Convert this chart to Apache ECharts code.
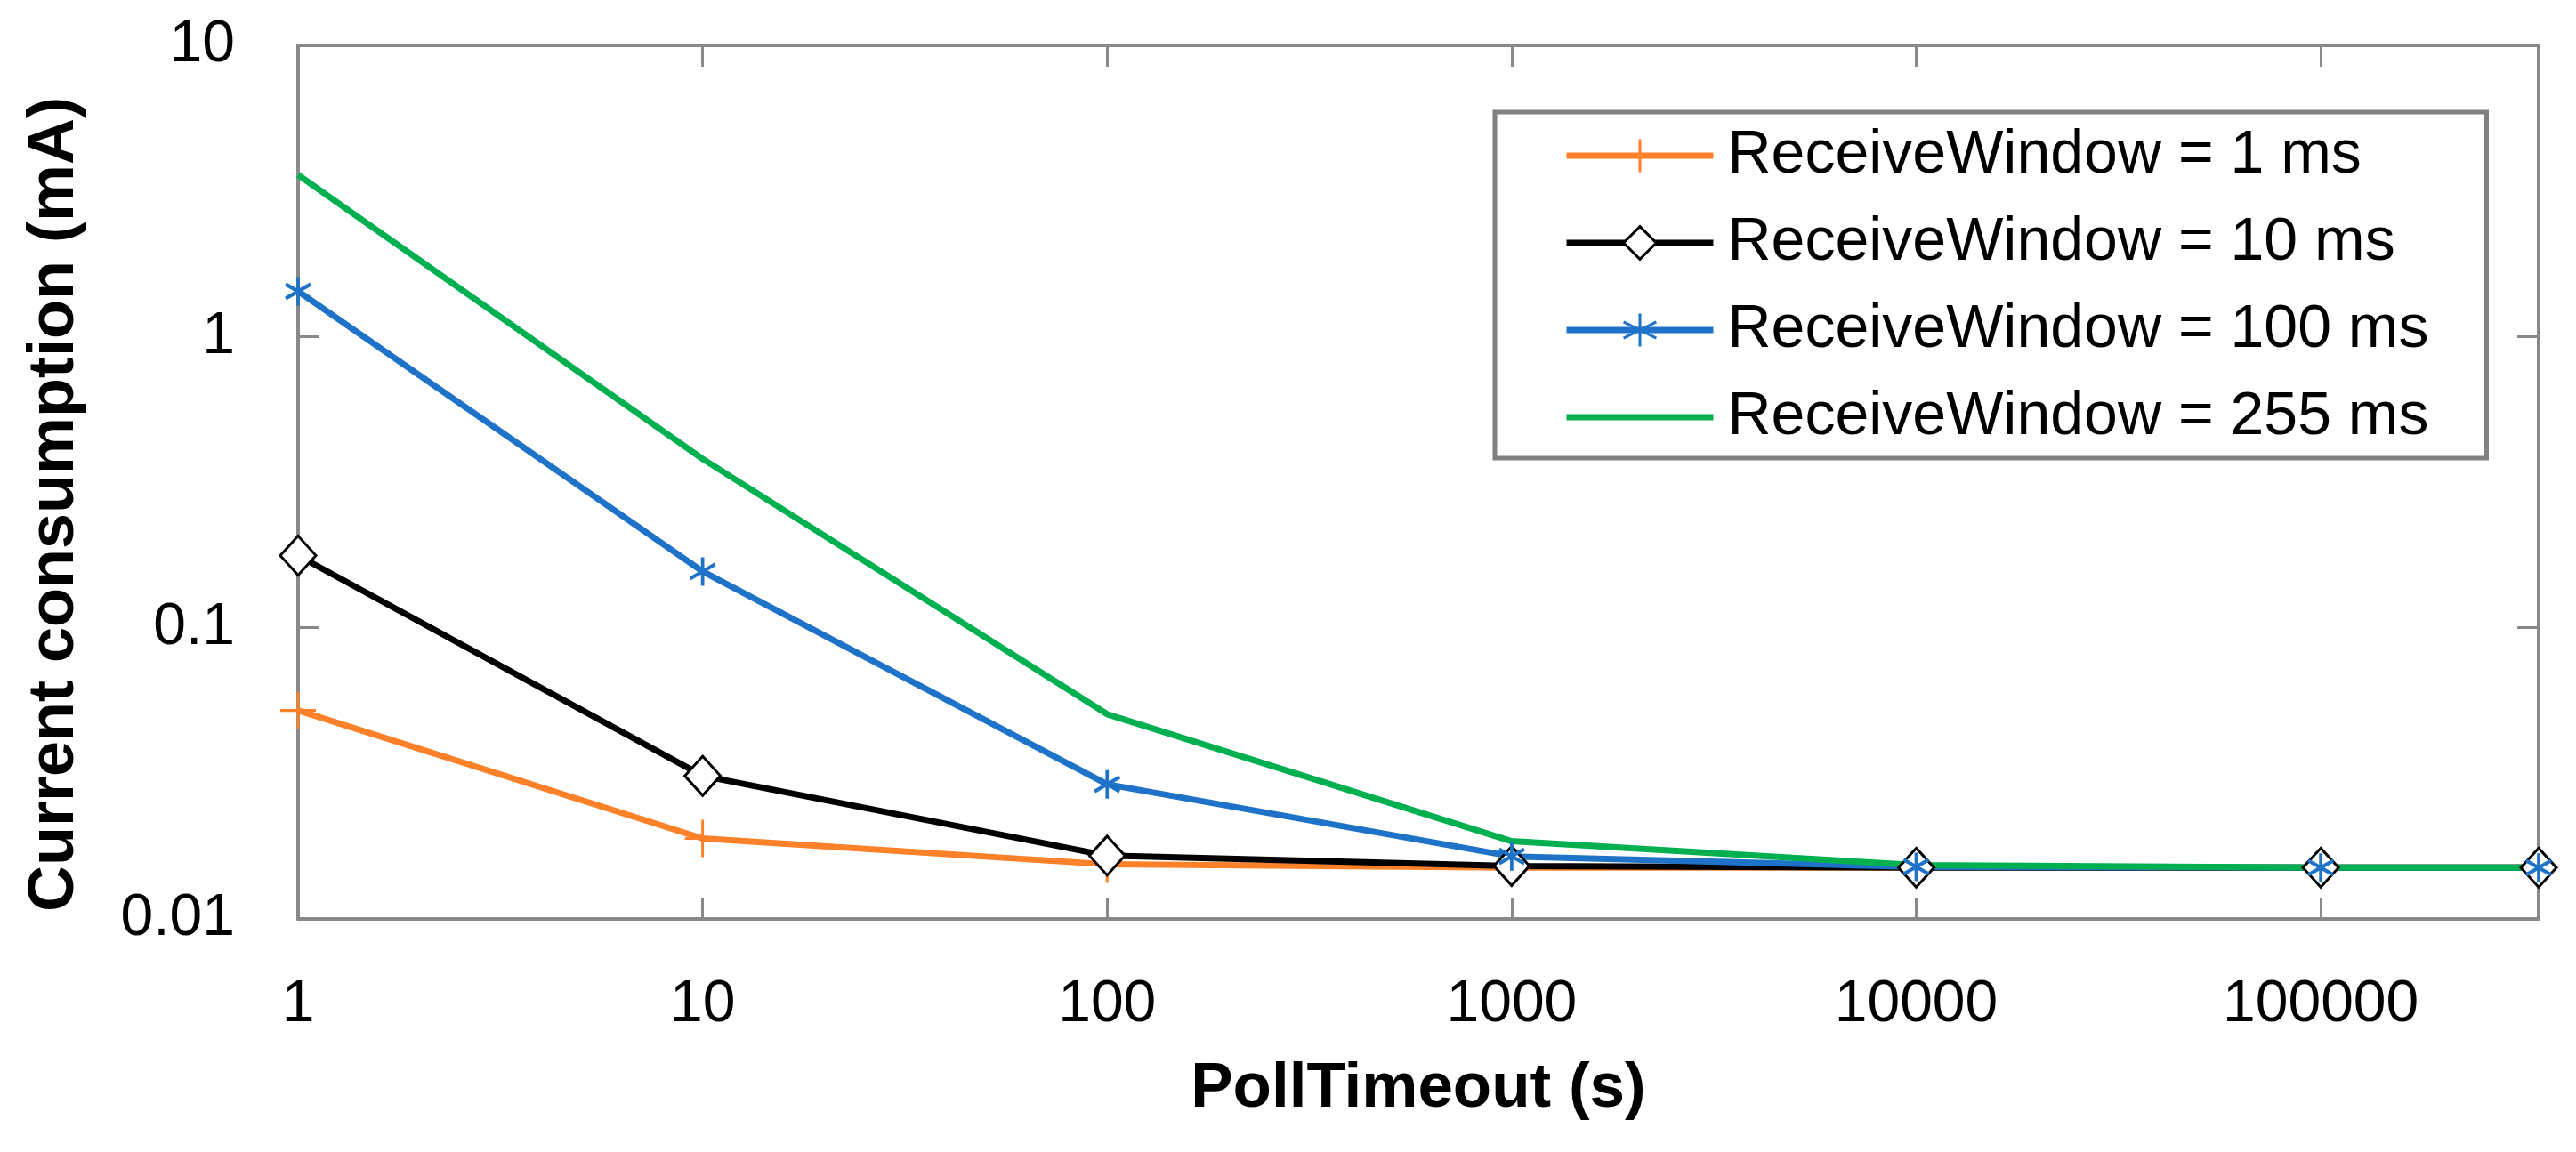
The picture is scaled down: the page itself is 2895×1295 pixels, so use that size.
<!DOCTYPE html>
<html>
<head>
<meta charset="utf-8">
<script src="https://cdn.jsdelivr.net/npm/echarts@6/dist/echarts.min.js"></script>
<style>
  html, body { margin: 0; padding: 0; background: #fff; }
  #chart { width: 2895px; height: 1295px; }
</style>
</head>
<body>
<div id="chart"></div>
<script>
// Datos (eje x y eje y logaritmicos)
const pollTimeout = [1, 10, 100, 1000, 10000, 100000, 345600];
const serieNombres = ['ReceiveWindow = 1 ms', 'ReceiveWindow = 10 ms', 'ReceiveWindow = 100 ms', 'ReceiveWindow = 255 ms'];
const rw1ms   = [0.052, 0.0189, 0.0154, 0.0150, 0.0150, 0.0150, 0.0150];
const rw10ms  = [0.177, 0.031, 0.0165, 0.0152, 0.0150, 0.0150, 0.0150];
const rw100ms = [1.43, 0.156, 0.029, 0.0164, 0.0151, 0.0150, 0.0150];
const rw255ms = [3.59, 0.38, 0.0505, 0.0185, 0.0153, 0.0150, 0.0150];

const fuente = 'Liberation Sans';
const gris = '#898989';
const naranja = '#FD8128';
const azul = '#1E73C8';
const verde = '#00B050';

// Junta x con y para cada serie
function pares(valores) {
    return valores.map((v, i) => [pollTimeout[i], v]);
}

const chart = echarts.init(document.getElementById('chart'));

const ejeComun = {
    type: 'log',
    logBase: 10,
    axisLine: { show: true, onZero: false, lineStyle: { color: gris, width: 4 } },
    axisTick: { show: true, inside: true, length: 24, lineStyle: { color: gris, width: 3 } },
    splitLine: { show: false },
    minorTick: { show: false }
};

const option = {
    backgroundColor: '#fff',
    animation: false,
    grid: { left: 335, right: 42, top: 51, bottom: 262, containLabel: false },
    xAxis: [
        Object.assign({}, ejeComun, {
            position: 'bottom',
            min: 1,
            max: 345600,
            name: 'PollTimeout (s)',
            nameLocation: 'middle',
            nameGap: 156,
            nameTextStyle: { fontFamily: fuente, fontWeight: 'bold', fontSize: 71, color: '#000' },
            axisLabel: {
                margin: 64,
                fontFamily: fuente,
                fontSize: 66,
                color: '#000',
                showMaxLabel: false,
                formatter: function (v) {
                    const e = Math.log10(v);
                    return Math.abs(e - Math.round(e)) < 1e-6 ? String(Math.round(v)) : '';
                }
            }
        }),
        Object.assign({}, ejeComun, {
            position: 'top',
            min: 1,
            max: 345600,
            axisLabel: { show: false }
        })
    ],
    yAxis: [
        Object.assign({}, ejeComun, {
            position: 'left',
            min: 0.01,
            max: 10,
            name: 'Current consumption (mA)',
            nameLocation: 'middle',
            nameGap: 237,
            nameTextStyle: { fontFamily: fuente, fontWeight: 'bold', fontSize: 72, color: '#000', padding: [0, 50, 0, 0] },
            axisLabel: {
                margin: 71,
                fontFamily: fuente,
                fontSize: 66,
                color: '#000',
                formatter: function (v) {
                    return String(Number(v.toPrecision(6)));
                }
            }
        }),
        Object.assign({}, ejeComun, {
            position: 'right',
            min: 0.01,
            max: 10,
            axisLabel: { show: false }
        })
    ],
    legend: {
        orient: 'vertical',
        left: 1680,
        top: 126,
        padding: [15, 65, 12, 77],
        itemWidth: 165,
        itemHeight: 46,
        itemGap: 30,
        borderColor: '#808080',
        borderWidth: 5,
        backgroundColor: '#fff',
        lineStyle: { width: 7 },
        itemStyle: { borderWidth: 3 },
        data: [
            serieNombres[0],
            serieNombres[1],
            serieNombres[2],
            { name: serieNombres[3], icon: 'path://M0,0L165,0L165,7L0,7Z' }
        ],
        textStyle: { fontFamily: fuente, fontSize: 68, color: '#000', padding: [0, 0, 0, 11] }
    },
    series: [
        {
            name: serieNombres[0],
            type: 'line',
            data: pares(rw1ms),
            symbol: 'path://M0,-10L0,10M-10,0L10,0',
            symbolSize: [40, 42],
            lineStyle: { color: naranja, width: 7 },
            itemStyle: { color: naranja, borderColor: naranja, borderWidth: 3 }
        },
        {
            name: serieNombres[1],
            type: 'line',
            data: pares(rw10ms),
            symbol: 'diamond',
            symbolSize: [40, 44],
            lineStyle: { color: '#000', width: 7 },
            itemStyle: { color: '#fff', borderColor: '#000', borderWidth: 3 }
        },
        {
            name: serieNombres[2],
            type: 'line',
            data: pares(rw100ms),
            symbol: 'path://M0,-10L0,10M-8.66,-5L8.66,5M-8.66,5L8.66,-5',
            symbolSize: [28, 32],
            lineStyle: { color: azul, width: 7 },
            itemStyle: { color: azul, borderColor: azul, borderWidth: 4 }
        },
        {
            name: serieNombres[3],
            type: 'line',
            data: pares(rw255ms),
            symbol: 'none',
            lineStyle: { color: verde, width: 7 },
            itemStyle: { color: verde }
        }
    ]
};

chart.setOption(option);
</script>
</body>
</html>
